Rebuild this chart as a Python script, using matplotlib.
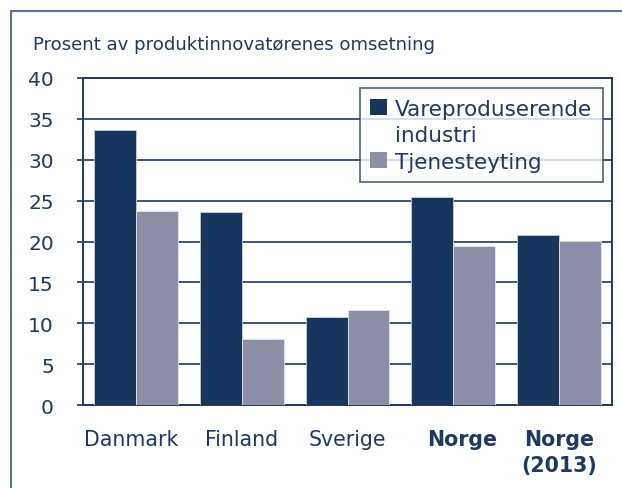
import matplotlib
matplotlib.use("Agg")
import matplotlib.pyplot as plt
from matplotlib.patches import Rectangle, Patch
import numpy as np

categories = ["Danmark", "Finland", "Sverige", "Norge", "Norge\n(2013)"]
bold_labels = [False, False, False, True, True]
vare = [33.7, 23.6, 10.8, 25.5, 20.8]
tjeneste = [23.7, 8.1, 11.6, 19.4, 20.1]
series_names = ["Vareproduserende\nindustri", "Tjenesteyting"]
yticks = [0, 5, 10, 15, 20, 25, 30, 35, 40]
# horizontal shift of category labels relative to their group centre (style)
label_shift = [-0.04, 0.0, 0.0, 0.08, 0.0]

dark = "#17365d"
gray = "#8d8fa6"
textc = "#1f3a60"
linec = "#1f3a60"

plt.rcParams['font.family'] = ['DejaVu Sans']

fig = plt.figure(figsize=(6.22, 4.89), dpi=100)
ax = fig.add_axes([83/622, 1-406/489, (612-83)/622, (406-79)/489])

x = np.arange(len(categories))
w = 0.396
ax.bar(x - w/2, vare, w, color=dark, edgecolor="#c9cdd8", linewidth=0.6, zorder=3)
ax.bar(x + w/2, tjeneste, w, color=gray, edgecolor="#e4e6ee", linewidth=0.6, zorder=3)

ax.set_xlim(-0.5, len(categories) - 0.5)
ax.set_ylim(0, 40)
ax.set_yticks(yticks)
ax.set_yticklabels([str(t) for t in yticks], fontsize=14.5, color=textc)
ax.yaxis.grid(True, color=linec, linewidth=1.2, zorder=0)
ax.set_axisbelow(True)
for s in ax.spines.values():
    s.set_color(linec)
    s.set_linewidth(1.4)
ax.tick_params(axis='y', length=4, width=1.2, color=linec, pad=17)
ax.set_xticks([])

xtrans = matplotlib.transforms.blended_transform_factory(ax.transData, fig.transFigure)
for i, (cat, b, sh) in enumerate(zip(categories, bold_labels, label_shift)):
    ax.text(i + sh, 1 - 430/489, cat, transform=xtrans, ha='center', va='top',
            fontsize=14.8, color=textc, fontweight='bold' if b else 'normal',
            linespacing=1.35, multialignment='center')

# legend: first series label wraps to a second line under the text only
first_lines = series_names[0].split("\n")
handles = [Patch(facecolor=dark, edgecolor='none'), Patch(facecolor='none', edgecolor='none'),
           Patch(facecolor=gray, edgecolor='none')]
labels = [first_lines[0], first_lines[1], series_names[1]]
leg = ax.legend(handles, labels, loc='upper right', bbox_to_anchor=(603/622, 1-89/489),
                bbox_transform=fig.transFigure,
                fontsize=15.5, frameon=True, fancybox=False, handlelength=0.75, handleheight=0.75,
                handletextpad=0.4, borderpad=0.5, labelspacing=0.3, borderaxespad=0)
leg.get_frame().set_edgecolor(linec)
leg.get_frame().set_linewidth(1.2)
for t in leg.get_texts():
    t.set_color(textc)

fig.text(33/622, 1-50/489, "Prosent av produktinnovatørenes omsetning", fontsize=13.1,
         color=textc, va='baseline', ha='left')

border = Rectangle((11/622, -0.1), 1.2, 1.1 - 12/489, transform=fig.transFigure,
                   fill=False, edgecolor="#5b6f90", linewidth=1.5, clip_on=False)
fig.patches.append(border)

fig.savefig("out.png", dpi=100)
